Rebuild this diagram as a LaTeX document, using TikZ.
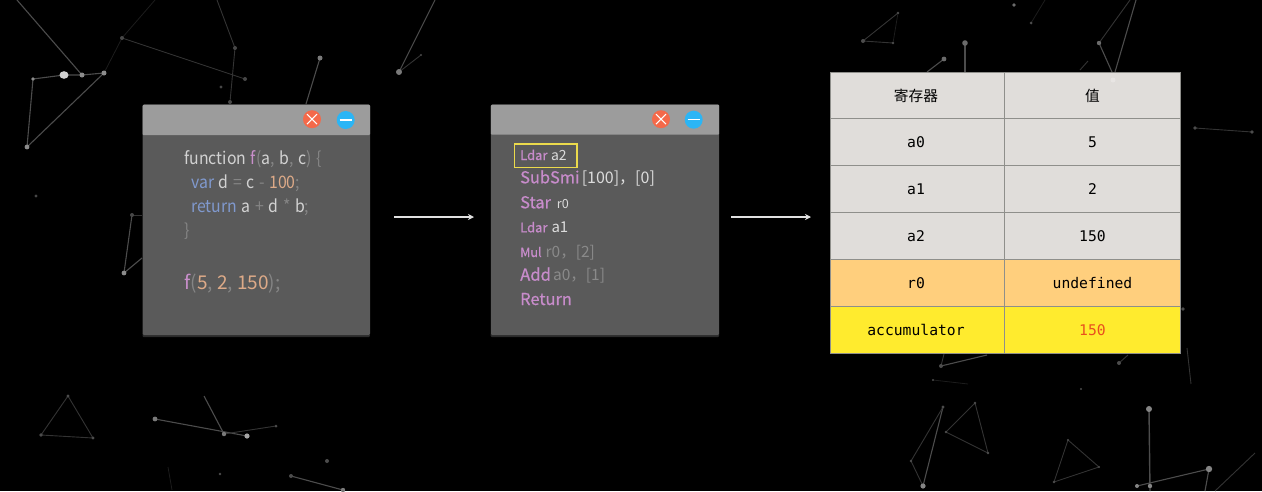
\documentclass[tikz,border=0pt]{standalone}
\usepackage{fontspec}
\setmainfont{Noto Sans CJK SC}
\newfontfamily\codefont[FakeStretch=0.92,WordSpace=1.3]{Noto Sans CJK SC}
\newfontfamily\plainfont{Noto Sans CJK SC}
\newfontfamily\opfont[FakeBold=0.7]{Noto Sans CJK SC}
\newfontfamily\tabfont{DejaVu Sans Mono}
\newfontfamily\cjkfont{Noto Sans CJK SC}
\newcommand\fsz[1]{\fontsize{#1}{#1}\selectfont}
\definecolor{codew}{HTML}{D2D2D2}
\definecolor{codeg}{HTML}{858585}
\definecolor{codep}{HTML}{C98FCB}
\definecolor{codeb}{HTML}{8099CE}
\definecolor{codeo}{HTML}{DDAA88}
\definecolor{opp}{HTML}{C88CCB}
\definecolor{argw}{HTML}{DCDCDC}
\definecolor{argg}{HTML}{8A8A8A}
\definecolor{winbody}{HTML}{5A5A5A}
\definecolor{wintitle}{HTML}{9C9C9C}
\definecolor{cellgrey}{HTML}{E0DDDA}
\definecolor{cellorange}{HTML}{FFCF7D}
\definecolor{cellyellow}{HTML}{FFEB2E}
\definecolor{gridc}{HTML}{8F8F8B}
\definecolor{closec}{HTML}{F4694A}
\definecolor{minc}{HTML}{2BB5F5}
\definecolor{hlc}{HTML}{EBDA4C}
\definecolor{redval}{HTML}{E8501E}
\usetikzlibrary{arrows.meta}
\tikzset{
  window/.style={rectangle,fill=winbody,rounded corners=1.5pt,inner sep=0pt,anchor=north west,minimum width=227.3pt,minimum height=230.5pt},
  titlebar/.style={rectangle,fill=wintitle,rounded corners=1pt,inner sep=0pt,anchor=north west,minimum width=227.3pt,minimum height=30.5pt},
  closebtn/.style={circle,fill=#1,inner sep=0pt,minimum size=18pt},
  codeline/.style={anchor=base west,inner sep=0pt,font=\codefont\fsz{17.2}},
  opline/.style={anchor=base west,inner sep=0pt},
  cell/.style={rectangle,draw=gridc,line width=0.7pt,fill=#1,inner sep=0pt,outer sep=0pt,anchor=north west,minimum height=47pt,font=\tabfont\fsz{14.7},text=black},
  colA/.style={minimum width=174pt,execute at end node={\hspace{3pt}}},
  colB/.style={minimum width=176pt},
  flow/.style={draw=white!88!black,line width=1.5pt,-{Stealth[length=6pt,width=6pt]}},
  sa/.style={draw=white!30!black,line width=1.1pt},
  sb/.style={draw=white!20!black,line width=0.9pt},
  sc/.style={draw=white!11!black,line width=0.8pt},
}
\begin{document}
\begin{tikzpicture}[x=1pt,y=-1pt]
\useasboundingbox (0,0) rectangle (1262,491);
\fill[black] (0,0) rectangle (1262,491);

% background constellation, top left
\draw[sa] (17,0) -- (82,75);
\draw[sa] (33,79) -- (64,75) -- (82,75) -- (104,73) -- (27,147) -- (33,79);
\draw[sc] (104,73) -- (122,38) -- (155,0);
\draw[sb] (122,38) -- (245,79);
\draw[sb] (235,48) -- (217,0);
\draw[sb] (235,48) -- (230,102);
\draw[sa] (320,58) -- (306,104);
\draw[sa] (399,72) -- (435,0);
\draw[sb] (399,72) -- (421,55);
\draw[sa] (132,215) -- (124,273) -- (142,258);
\draw[sb] (132,215) -- (142,215);
\fill[white!82!black] (64,75) ellipse [x radius=4.5,y radius=3.8];
\fill[white!55!black] (82,75) circle (2.5) (104,73) circle (2.5) (33,79) circle (1.8) (27,147) circle (2.4);
\fill[white!28!black] (122,38) circle (2) (235,48) circle (2) (245,79) circle (2) (221,87) circle (1.6) (230,102) circle (2);
\fill[white!48!black] (320,58) circle (2.5) (399,72) circle (3);
\fill[white!28!black] (421,55) circle (1.2) (36,196) circle (1.6) (132,215) circle (2);
\fill[white!55!black] (124,273) circle (2.4);

% background, bottom left
\draw[sb] (68,396) -- (41,435) -- (93,438) -- cycle;
\draw[sa] (155,419) -- (247,436);
\draw[sa] (204,396) -- (224,434);
\draw[sb] (224,434) -- (276,426);
\draw[sa] (291,476) -- (343,490);
\draw[sc] (168,467) -- (172,490);
\fill[white!30!black] (68,396) circle (1.6) (41,435) circle (1.8) (93,438) circle (1.6) (276,426) circle (1.5) (327,461) circle (2) (291,476) circle (2) (220,474) circle (1.4);
\fill[white!48!black] (155,419) circle (2.4) (224,434) circle (2.2) (343,490) circle (2.2);
\fill[white!65!black] (247,436) circle (2.6);

% background, top right
\draw[sb] (893,43) -- (863,41) -- (898,13);
\draw[sc] (898,13) -- (893,43);
\draw[sa] (944,59) -- (927,72);
\draw[sa] (965,43) -- (965,72);
\draw[sc] (1031,23) -- (1045,0);
\draw[sb] (1099,43) -- (1130,0);
\draw[sa] (1099,43) -- (1112,72);
\draw[sa] (1115,72) -- (1136,0);
\draw[sb] (1080,70) -- (1088,61);
\draw[sb] (1195,128) -- (1252,132);
\fill[white!30!black] (898,13) circle (1.4) (863,41) circle (2) (893,43) circle (1.4) (1031,23) circle (1.5) (1195,128) circle (1.8) (1252,132) circle (1.8) (1183,309) circle (1.8);
\fill[white!42!black] (944,59) circle (2.4) (965,43) circle (2.8) (1014,5) circle (1.8) (1099,43) circle (2.2);

% background, bottom right
\draw[sb] (1187,348) -- (1191,384);
\draw[sa] (941,366) -- (987,355);
\draw[sb] (941,366) -- (944,354);
\draw[sc] (933,380) -- (968,384);
\draw[sb] (1119,363) -- (1128,355);
\draw[sa] (943,407) -- (923,486);
\draw[sb] (943,407) -- (911,461) -- (923,486);
\draw[sb] (975,403) -- (946,432) -- (988,453) -- cycle;
\draw[sb] (1068,440) -- (1099,467) -- (1054,482) -- cycle;
\draw[sa,line width=1.4pt] (1149,409) -- (1150,491);
\draw[sa] (1209,469) -- (1137,486);
\draw[sa] (1209,469) -- (1205,491);
\draw[sb] (1255,453) -- (1215,491);
\fill[white!30!black] (941,366) circle (2) (933,380) circle (1.2) (1119,363) circle (2) (1081,389) circle (1.2) (943,407) circle (1.6) (911,461) circle (1.4) (975,403) circle (1.4) (946,432) circle (1.4) (988,453) circle (1.4) (1068,440) circle (1.2) (1099,467) circle (1.2) (1054,482) circle (1.4);
\fill[white!52!black] (923,486) circle (2.6) (1149,409) circle (3) (1209,469) circle (3.2) (1137,486) circle (2) (1150,486) circle (2.2);

% window shadows
\fill[white!17!black,rounded corners=1pt] (142.5,333) rectangle (369.8,337);
\fill[white!17!black,rounded corners=1pt] (490.7,333) rectangle (719,337);

% left window
\node[window] (win1) at (142.5,104.5) {};
\node[titlebar] (bar1) at (142.5,104.5) {};
\node[closebtn=closec] (close1) at (312,119.2) {};
\node[closebtn=minc] (min1) at (345.7,120) {};
\draw[white,line width=1.1pt] (close1.center) ++(-5,-5) -- ++(10,10) ++(-10,0) -- ++(10,-10);
\draw[white,line width=1.4pt] (min1.center) ++(-6,0) -- ++(12,0);

\node[codeline] (c1) at (184.3,164) {\textcolor{codew}{function} \textcolor{codep}{f}\textcolor{codeg}{(}\textcolor{codew}{a}\textcolor{codeg}{,} \textcolor{codew}{b}\textcolor{codeg}{,} \textcolor{codew}{c}\textcolor{codeg}{) \{}};
\node[codeline] (c2) at (191,188.3) {\textcolor{codeb}{var} \textcolor{codew}{d} \textcolor{codeg}{=} \textcolor{codew}{c} \textcolor{codeg}{-} \textcolor{codeo}{100}\textcolor{codeg}{;}};
\node[codeline] (c3) at (191,212.3) {\textcolor{codeb}{return} \textcolor{codew}{a} \textcolor{codeg}{+} \textcolor{codew}{d} \textcolor{codeg}{*} \textcolor{codew}{b}\textcolor{codeg}{;}};
\node[codeline] (c4) at (184.3,236.6) {\textcolor{codeg}{\}}};
\node[codeline,font=\plainfont\fsz{19}] (c5) at (184.3,289) {\textcolor{codep}{f}\textcolor{codeg}{(}\textcolor{codeo}{5}\textcolor{codeg}{,} \textcolor{codeo}{2}\textcolor{codeg}{,} \textcolor{codeo}{150}\textcolor{codeg}{);}};

% right window
\node[window,minimum width=228.3pt] (win2) at (490.7,104.5) {};
\node[titlebar,minimum width=228.3pt,minimum height=30pt] (bar2) at (490.7,104.5) {};
\node[closebtn=closec] (close2) at (661,119.2) {};
\node[closebtn=minc] (min2) at (693.7,119.7) {};
\draw[white,line width=1.1pt] (close2.center) ++(-5,-5) -- ++(10,10) ++(-10,0) -- ++(10,-10);
\draw[white,line width=1.4pt] (min2.center) ++(-6,0) -- ++(12,0);

\node[rectangle,draw=hlc,line width=1.5pt,inner sep=0pt,outer sep=0pt,minimum width=62.5pt,minimum height=23.5pt,anchor=north west] (hl) at (514.5,143.8) {};
\node[opline] (o1) at (520,160) {\textcolor{opp}{\opfont\fsz{13}Ldar}\hspace{3.5pt}\textcolor{argw}{\plainfont\fsz{14}a2}};
\node[opline] (o2) at (520,183.3) {\textcolor{opp}{\opfont\fsz{16.4}SubSmi} \textcolor{argw}{\plainfont\fsz{16}[100]，[0]}};
\node[opline] (o3) at (520,208.3) {\textcolor{opp}{\opfont\fsz{16.4}Star}\hspace{6pt}\textcolor{argw}{\plainfont\fsz{12.6}r0}};
\node[opline] (o4) at (520,232.3) {\textcolor{opp}{\opfont\fsz{13}Ldar}\hspace{4pt}\textcolor{argw}{\plainfont\fsz{15}a1}};
\node[opline] (o5) at (520,257) {\textcolor{opp}{\opfont\fsz{12.6}Mul}\hspace{4pt}\textcolor{argg}{\plainfont\fsz{15.5}r0，[2]}};
\node[opline] (o6) at (520,280.7) {\textcolor{opp}{\opfont\fsz{16.6}Add} \textcolor{argg}{\plainfont\fsz{15.5}a0，[1]}};
\node[opline] (o7) at (520,305) {\textcolor{opp}{\opfont\fsz{16.4}Return}};

% arrows
\coordinate (a1s) at (394,217);
\coordinate (a1e) at (474,217);
\coordinate (a2s) at (731,217);
\coordinate (a2e) at (811,217);
\draw[flow] (a1s) -- (a1e);
\draw[flow] (a2s) -- (a2e);

% table
\node[cell=cellgrey,colA,font=\cjkfont\fsz{14.7}] (r0a) at (830.5,72) {寄存器};
\node[cell=cellgrey,colB,font=\cjkfont\fsz{14.7}] (r0b) at (1004.5,72) {值};
\node[cell=cellgrey,colA] (r1a) at (830.5,118.8) {a0};
\node[cell=cellgrey,colB] (r1b) at (1004.5,118.8) {5};
\node[cell=cellgrey,colA] (r2a) at (830.5,165.6) {a1};
\node[cell=cellgrey,colB] (r2b) at (1004.5,165.6) {2};
\node[cell=cellgrey,colA] (r3a) at (830.5,212.5) {a2};
\node[cell=cellgrey,colB] (r3b) at (1004.5,212.5) {150};
\node[cell=cellorange,colA] (r4a) at (830.5,259.8) {r0};
\node[cell=cellorange,colB] (r4b) at (1004.5,259.8) {undefined};
\node[cell=cellyellow,colA] (r5a) at (830.5,306.8) {accumulator};
\node[cell=cellyellow,colB,text=redval] (r5b) at (1004.5,306.8) {150};
\fill[white!25!cellgrey] (1113,80) circle (2.5);
\end{tikzpicture}
\end{document}
